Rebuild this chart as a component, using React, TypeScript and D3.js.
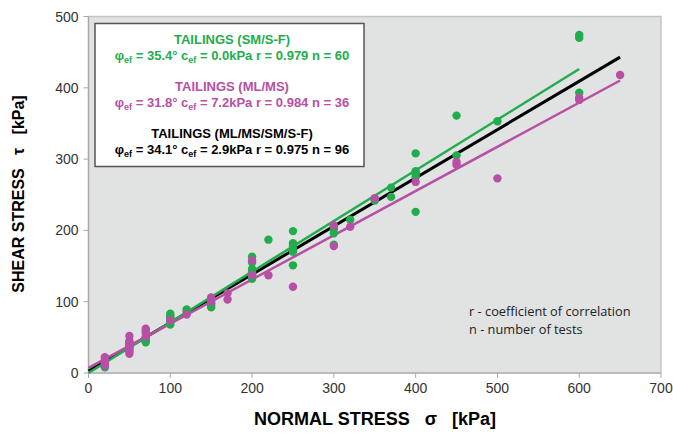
import React from "react";
import * as d3 from "d3";

const W = 673;
const H = 434;

// Data: [normal stress σ (kPa), shear stress τ (kPa)]
const greenSigma = [
  20, 20, 20, 20,
  50, 50, 50, 50, 50,
  70, 70, 70, 70,
  100, 100, 100, 100, 100, 100,
  120, 120,
  150, 150, 150, 150,
  200, 200, 200, 200, 200, 200, 200, 200,
  220,
  250, 250, 250, 250, 250, 250,
  300, 300, 300, 300,
  320,
  350,
  370, 370,
  400, 400, 400, 400, 400, 400,
  450, 450,
  500,
  600, 600, 600,
];
const greenTau = [
  8, 9, 10, 12,
  30, 34, 36, 38, 42,
  43, 45, 46, 50,
  68, 72, 75, 78, 80, 83,
  86, 89,
  92, 95, 98, 104,
  132, 135, 137, 141, 143, 146, 155, 163,
  187,
  151, 170, 172, 178, 182, 199,
  180, 196, 202, 205,
  215,
  242,
  247, 260,
  226, 275, 279, 281, 283, 308,
  305, 361,
  353,
  393, 470, 474,
];

const magentaSigma = [
  20, 20, 20, 20, 20,
  50, 50, 50, 50, 50, 50,
  70, 70, 70, 70,
  100,
  120,
  150, 150,
  170, 170,
  200, 200,
  220,
  250,
  300, 300,
  320,
  350,
  400,
  450, 450,
  500,
  600, 600,
  650,
];
const magentaTau = [
  10, 12, 15, 18, 22,
  27, 32, 38, 42, 45, 52,
  51, 56, 59, 62,
  74,
  82,
  100, 106,
  103, 112,
  137, 158,
  137,
  121,
  178, 207,
  205,
  245,
  268,
  292, 296,
  273,
  383, 386,
  418,
];

// Failure envelopes τ = c + σ·tanφ
const fitNames = ["SM/S-F", "ML/MS", "ML/MS/SM/S-F"];
const fitPhi = [35.4, 31.8, 34.1];
const fitC = [0.0, 7.2, 2.9];
const fitR = ["0.979", "0.984", "0.975"];
const fitN = [60, 36, 96];
const fitXmax = [600, 650, 650];
const fitColors = ["#22ad4c", "#b74fa5", "#000000"];

const xTicks = [0, 100, 200, 300, 400, 500, 600, 700];
const yTicks = [0, 100, 200, 300, 400, 500];

const GREEN = "#22ad4c";
const MAGENTA = "#b74fa5";

export default function App() {
  const left = 88.5;
  const right = 661;
  const top = 16.5;
  const bottom = 373;
  const x = d3.scaleLinear().domain([0, 700]).range([left, right]);
  const y = d3.scaleLinear().domain([0, 500]).range([bottom, top]);
  const line = d3
    .line<[number, number]>()
    .x((d) => x(d[0]))
    .y((d) => y(d[1]));

  const fitLine = (i: number) => {
    const t = Math.tan((fitPhi[i] * Math.PI) / 180);
    return line([
      [0, fitC[i]],
      [fitXmax[i], fitC[i] + t * fitXmax[i]],
    ]) as string;
  };

  const font = "'Liberation Sans', Arial, sans-serif";
  const legendCx = 232;
  const legendLines = [
    { color: GREEN, y: 44, i: 0 },
    { color: MAGENTA, y: 91, i: 1 },
    { color: "#000", y: 138, i: 2 },
  ];

  return (
    <svg
      width={W}
      height={H}
      style={{ position: "absolute", left: 0, top: 0, background: "#fff" }}
      fontFamily={font}
    >
      <rect x={left} y={top} width={right - left} height={bottom - top} fill="#e1e2e2" stroke="#c4c4c4" strokeWidth={1.5} />
      {/* axes */}
      <line x1={left} x2={left} y1={top} y2={bottom} stroke="#a8a8a8" strokeWidth={1.2} />
      <line x1={left} x2={right} y1={bottom} y2={bottom} stroke="#a8a8a8" strokeWidth={1.2} />
      {xTicks.map((t) => (
        <g key={"x" + t}>
          <line x1={x(t)} x2={x(t)} y1={bottom} y2={bottom + 5} stroke="#a8a8a8" strokeWidth={1} />
          <text x={x(t)} y={bottom + 20} textAnchor="middle" fontSize={14} fill="#333">
            {t}
          </text>
        </g>
      ))}
      {yTicks.map((t) => (
        <g key={"y" + t}>
          <line x1={left - 5} x2={left} y1={y(t)} y2={y(t)} stroke="#a8a8a8" strokeWidth={1} />
          <text x={left - 10} y={y(t) + 5} textAnchor="end" fontSize={14} fill="#333">
            {t}
          </text>
        </g>
      ))}

      {/* fitted lines */}
      <path d={fitLine(2)} stroke={fitColors[2]} strokeWidth={3} fill="none" />
      <path d={fitLine(0)} stroke={fitColors[0]} strokeWidth={2.5} fill="none" />
      <path d={fitLine(1)} stroke={fitColors[1]} strokeWidth={2.5} fill="none" />

      {/* points */}
      {greenSigma.map((s, i) => (
        <circle key={"g" + i} cx={x(s)} cy={y(greenTau[i])} r={4.2} fill={GREEN} />
      ))}
      {magentaSigma.map((s, i) => (
        <circle key={"m" + i} cx={x(s)} cy={y(magentaTau[i])} r={4.2} fill={MAGENTA} />
      ))}

      {/* legend box */}
      <rect x={95} y={23.5} width={269} height={143} fill="#fff" stroke="#555" strokeWidth={1.5} />
      {legendLines.map((l) => (
        <g key={l.i} fill={l.color} fontWeight="bold" fontSize={13} textAnchor="middle">
          <text x={legendCx} y={l.y}>{`TAILINGS (${fitNames[l.i]})`}</text>
          <text x={legendCx} y={l.y + 16}>
            <tspan>φ</tspan>
            <tspan fontSize={9} dy={3}>ef</tspan>
            <tspan dy={-3}>{` = ${fitPhi[l.i].toFixed(1)}° c`}</tspan>
            <tspan fontSize={9} dy={3}>ef</tspan>
            <tspan dy={-3}>{` = ${fitC[l.i].toFixed(1)}kPa r = ${fitR[l.i]} n = ${fitN[l.i]}`}</tspan>
          </text>
        </g>
      ))}

      {/* note */}
      <g fontFamily="'Open Sans', sans-serif" fontSize={12.8} fill="#222">
        <text x={469} y={316}>r - coefficient of correlation</text>
        <text x={469} y={334}>n - number of tests</text>
      </g>

      {/* axis titles */}
      <text
        x={375}
        y={425}
        textAnchor="middle"
        fontWeight="bold"
        fontSize={18}
        fill="#000"
        style={{ whiteSpace: "pre" }}
      >
        {"NORMAL STRESS   σ   [kPa]"}
      </text>
      <text
        transform="translate(24,194) rotate(-90)"
        textAnchor="middle"
        fontWeight="bold"
        fontSize={16}
        fill="#000"
        style={{ whiteSpace: "pre" }}
      >
        {"SHEAR STRESS   τ   [kPa]"}
      </text>
    </svg>
  );
}
